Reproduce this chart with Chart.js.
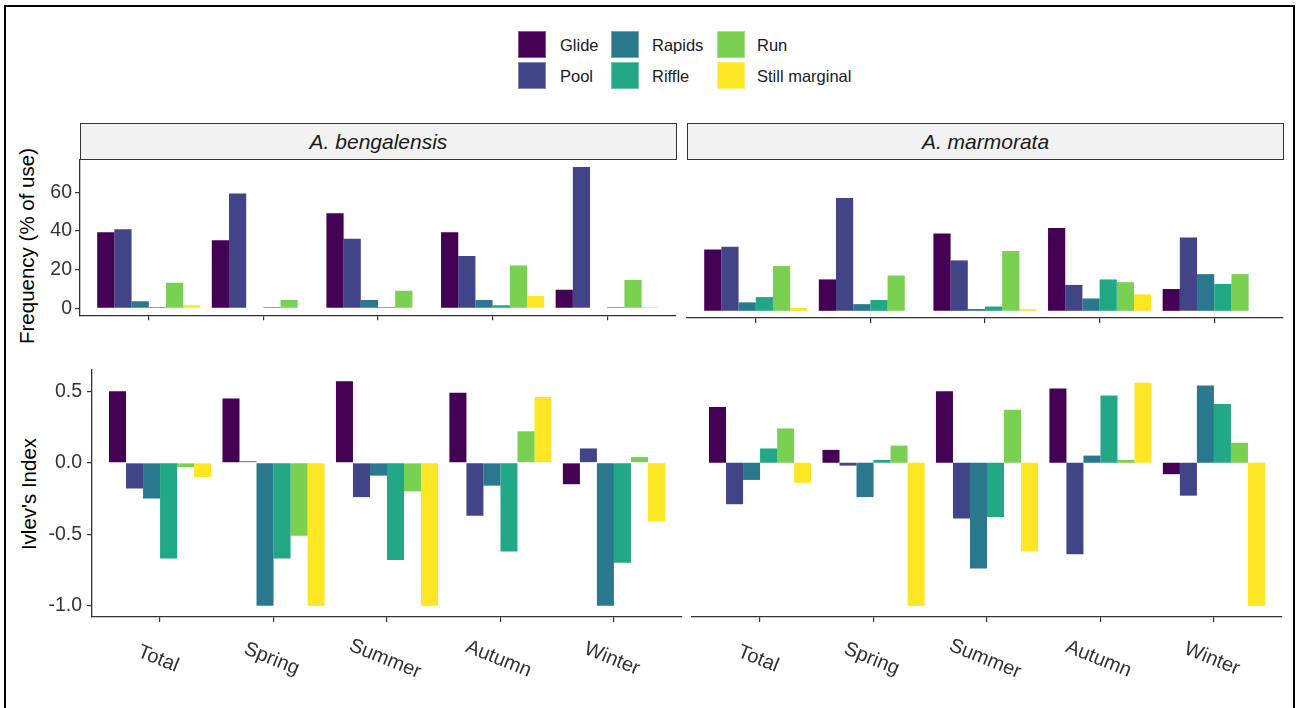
<!DOCTYPE html>
<html>
<head>
<meta charset="utf-8">
<title>Habitat use and selection</title>
<script src="https://cdn.jsdelivr.net/npm/chart.js@4.4.1/dist/chart.umd.min.js"></script>
<style>
  html, body { margin: 0; padding: 0; background: #fff; }
  body { width: 1301px; height: 708px; position: relative; overflow: hidden;
         font-family: "Liberation Sans", Arial, sans-serif; color: #1a1a1a; }
  .frame { position: absolute; left: 4px; top: 5px; width: 1291px; height: 730px;
           border: 2px solid #000; box-sizing: border-box; }
  canvas { position: absolute; }
  .strip { position: absolute; top: 123px; height: 37px; width: 597px; box-sizing: border-box;
           border: 1px solid #333; background: #f2f2f2; font-style: italic; font-size: 21px;
           color: #1a1a1a; display: flex; align-items: center; justify-content: center; }
  .ytitle { position: absolute; font-size: 20.5px; color: #000; white-space: nowrap;
            transform: translate(-50%, -50%) rotate(-90deg); }
  .key { position: absolute; width: 28px; height: 27px; box-sizing: border-box;
         border: 1px solid rgba(255,255,255,0.35); }
  .ktext { position: absolute; font-size: 16.5px; color: #1a1a1a; white-space: nowrap;
           line-height: 29px; }
</style>
</head>
<body>
<div class="frame"></div>

<div id="legend"></div>

<div class="strip" style="left:80px;">A. bengalensis</div>
<div class="strip" style="left:687px;">A. marmorata</div>

<div class="ytitle" style="left:27px; top:246px;">Frequency (% of use)</div>
<div class="ytitle" style="left:29px; top:494px;">Ivlev's Index</div>

<canvas id="freqBeng" width="680" height="190" style="left:10px; top:140px;"></canvas>
<canvas id="freqMarm" width="620" height="190" style="left:680px; top:140px;"></canvas>
<canvas id="ivlevBeng" width="680" height="350" style="left:10px; top:350px;"></canvas>
<canvas id="ivlevMarm" width="615" height="350" style="left:685px; top:350px;"></canvas>

<script>
// Habitat types and the periods they were surveyed in
const HABITATS = ['Glide', 'Pool', 'Rapids', 'Riffle', 'Run', 'Still marginal'];
const SEASONS = ['Total', 'Spring', 'Summer', 'Autumn', 'Winter'];
const COLORS = ['#440154', '#414487', '#2A788E', '#22A884', '#7AD151', '#FDE725'];

// Frequency of use (%), one row per habitat, one column per season
const FREQ_BENGALENSIS = [
  [39.4, 35.3, 49.2, 39.4, 9.6],   // Glide
  [41.0, 59.5, 36.0, 27.1, 73.2],  // Pool
  [3.6, 0, 4.3, 4.3, 0],           // Rapids
  [0.7, 0.7, 0.7, 1.5, 0.7],       // Riffle
  [13.2, 4.3, 9.1, 22.1, 14.6],    // Run
  [1.5, 0, 0, 6.3, 0.7]            // Still marginal
];
const FREQ_MARMORATA = [
  [31.2, 16.0, 39.4, 42.2, 11.1],
  [32.6, 57.5, 25.7, 13.2, 37.4],
  [4.3, 3.4, 0.9, 6.3, 18.7],
  [7.0, 5.5, 2.2, 16.0, 13.7],
  [22.8, 18.0, 30.5, 14.6, 18.7],
  [1.5, 0, 0.9, 8.4, 0]
];

// Ivlev's electivity index, same layout
const IVLEV_BENGALENSIS = [
  [0.50, 0.45, 0.57, 0.49, -0.15],
  [-0.18, 0.01, -0.24, -0.37, 0.10],
  [-0.25, -1.0, -0.09, -0.16, -1.0],
  [-0.67, -0.67, -0.68, -0.62, -0.70],
  [-0.03, -0.51, -0.20, 0.22, 0.04],
  [-0.10, -1.0, -1.0, 0.46, -0.41]
];
const IVLEV_MARMORATA = [
  [0.39, 0.09, 0.50, 0.52, -0.08],
  [-0.29, -0.02, -0.39, -0.64, -0.23],
  [-0.12, -0.24, -0.74, 0.05, 0.54],
  [0.10, 0.02, -0.38, 0.47, 0.41],
  [0.24, 0.12, 0.37, 0.02, 0.14],
  [-0.14, -1.0, -0.62, 0.56, -1.0]
];

const FREQ_TICKS = [0, 20, 40, 60];
const IVLEV_TICKS = [-1.0, -0.5, 0.0, 0.5];

const FONT = '"Liberation Sans", Arial, sans-serif';
const AXIS_COLOR = '#333333';
const TEXT_COLOR = '#333333';

// Legend: two rows, filled column by column
(function buildLegend() {
  const host = document.getElementById('legend');
  const keyX = [518, 611, 717];
  const textX = [560, 652, 757];
  const rowY = [31, 62];
  HABITATS.forEach((h, i) => {
    const col = Math.floor(i / 2), row = i % 2;
    const k = document.createElement('div');
    k.className = 'key';
    k.style.left = keyX[col] + 'px';
    k.style.top = rowY[row] + 'px';
    k.style.background = COLORS[i];
    host.appendChild(k);
    const t = document.createElement('div');
    t.className = 'ktext';
    t.style.left = textX[col] + 'px';
    t.style.top = rowY[row] + 'px';
    t.textContent = h;
    host.appendChild(t);
  });
})();

// Shared value range for a row of panels, padded 5% like a ggplot continuous scale
function paddedRange(...tables) {
  let lo = 0, hi = 0;
  tables.forEach(t => t.forEach(r => r.forEach(v => { lo = Math.min(lo, v); hi = Math.max(hi, v); })));
  const pad = (hi - lo) * 0.05;
  return [lo - pad, hi + pad];
}

// Season names under the lower panels, slanted downwards
const slantedSeasonLabels = {
  id: 'slantedSeasonLabels',
  afterDraw(chart, args, opts) {
    if (!opts.show) return;
    const ctx = chart.ctx, xs = chart.scales.x;
    ctx.save();
    ctx.font = '20px ' + FONT;
    ctx.fillStyle = TEXT_COLOR;
    ctx.textAlign = 'center';
    ctx.textBaseline = 'middle';
    SEASONS.forEach((s, i) => {
      ctx.save();
      ctx.translate(xs.getPixelForValue(i + 1) - 2, chart.chartArea.bottom + 42);
      ctx.rotate(22 * Math.PI / 180);
      ctx.fillText(s, 0, 0);
      ctx.restore();
    });
    ctx.restore();
  }
};

function makePanel(id, rows, range, yTicks, fmt, cfg) {
  const datasets = HABITATS.map((h, i) => ({
    label: h,
    data: rows[i].map((v, j) => ({ x: j + 1, y: v })),
    backgroundColor: COLORS[i],
    borderWidth: 0,
    categoryPercentage: 0.9,
    barPercentage: 1.0
  }));
  return new Chart(document.getElementById(id), {
    type: 'bar',
    data: { datasets },
    plugins: [slantedSeasonLabels],
    options: {
      responsive: false,
      animation: false,
      devicePixelRatio: 1,
      layout: { padding: cfg.padding, autoPadding: false },
      plugins: {
        legend: { display: false },
        tooltip: { enabled: false },
        slantedSeasonLabels: { show: !!cfg.seasonLabels }
      },
      scales: {
        x: {
          type: 'linear',
          min: 0.4,
          max: SEASONS.length + 0.6,
          offset: false,
          afterBuildTicks: s => { s.ticks = SEASONS.map((_, i) => ({ value: i + 1 })); },
          afterFit: s => { s.height = 6; },
          ticks: { display: false },
          grid: { offset: false, drawOnChartArea: false, drawTicks: true, tickLength: 5,
                  color: AXIS_COLOR, lineWidth: 1.2 },
          border: { display: true, color: AXIS_COLOR, width: 1.3 }
        },
        y: {
          display: cfg.showY,
          min: range[0],
          max: range[1],
          afterBuildTicks: s => { s.ticks = yTicks.map(v => ({ value: v })); },
          afterFit: s => { s.width = cfg.yWidth; },
          ticks: {
            callback: v => fmt(v),
            font: { size: 19.5, family: FONT },
            color: TEXT_COLOR,
            padding: cfg.tickPad
          },
          grid: { offset: false, drawOnChartArea: false, drawTicks: true, tickLength: 5,
                  color: AXIS_COLOR, lineWidth: 1.2 },
          border: { display: true, color: AXIS_COLOR, width: 1.3 }
        }
      }
    }
  });
}

const freqRange = paddedRange(FREQ_BENGALENSIS, FREQ_MARMORATA);
const ivlevRange = paddedRange(IVLEV_BENGALENSIS, IVLEV_MARMORATA);
const fmtInt = v => String(Math.round(v));
const fmtOne = v => v.toFixed(1);

makePanel('freqBeng', FREQ_BENGALENSIS, freqRange, FREQ_TICKS, fmtInt,
  { showY: true, yWidth: 60, tickPad: 3, padding: { left: 10, right: 14, top: 20, bottom: 6 } });
makePanel('freqMarm', FREQ_MARMORATA, freqRange, FREQ_TICKS, fmtInt,
  { showY: false, yWidth: 0, tickPad: 3, padding: { left: 7, right: 17, top: 20, bottom: 6 } });
makePanel('ivlevBeng', IVLEV_BENGALENSIS, ivlevRange, IVLEV_TICKS, fmtOne,
  { showY: true, yWidth: 72, tickPad: 5, seasonLabels: true, padding: { left: 10, right: 8, top: 20, bottom: 77 } });
makePanel('ivlevMarm', IVLEV_MARMORATA, ivlevRange, IVLEV_TICKS, fmtOne,
  { showY: false, yWidth: 0, tickPad: 5, seasonLabels: true, padding: { left: 7, right: 18, top: 20, bottom: 77 } });
</script>
</body>
</html>
